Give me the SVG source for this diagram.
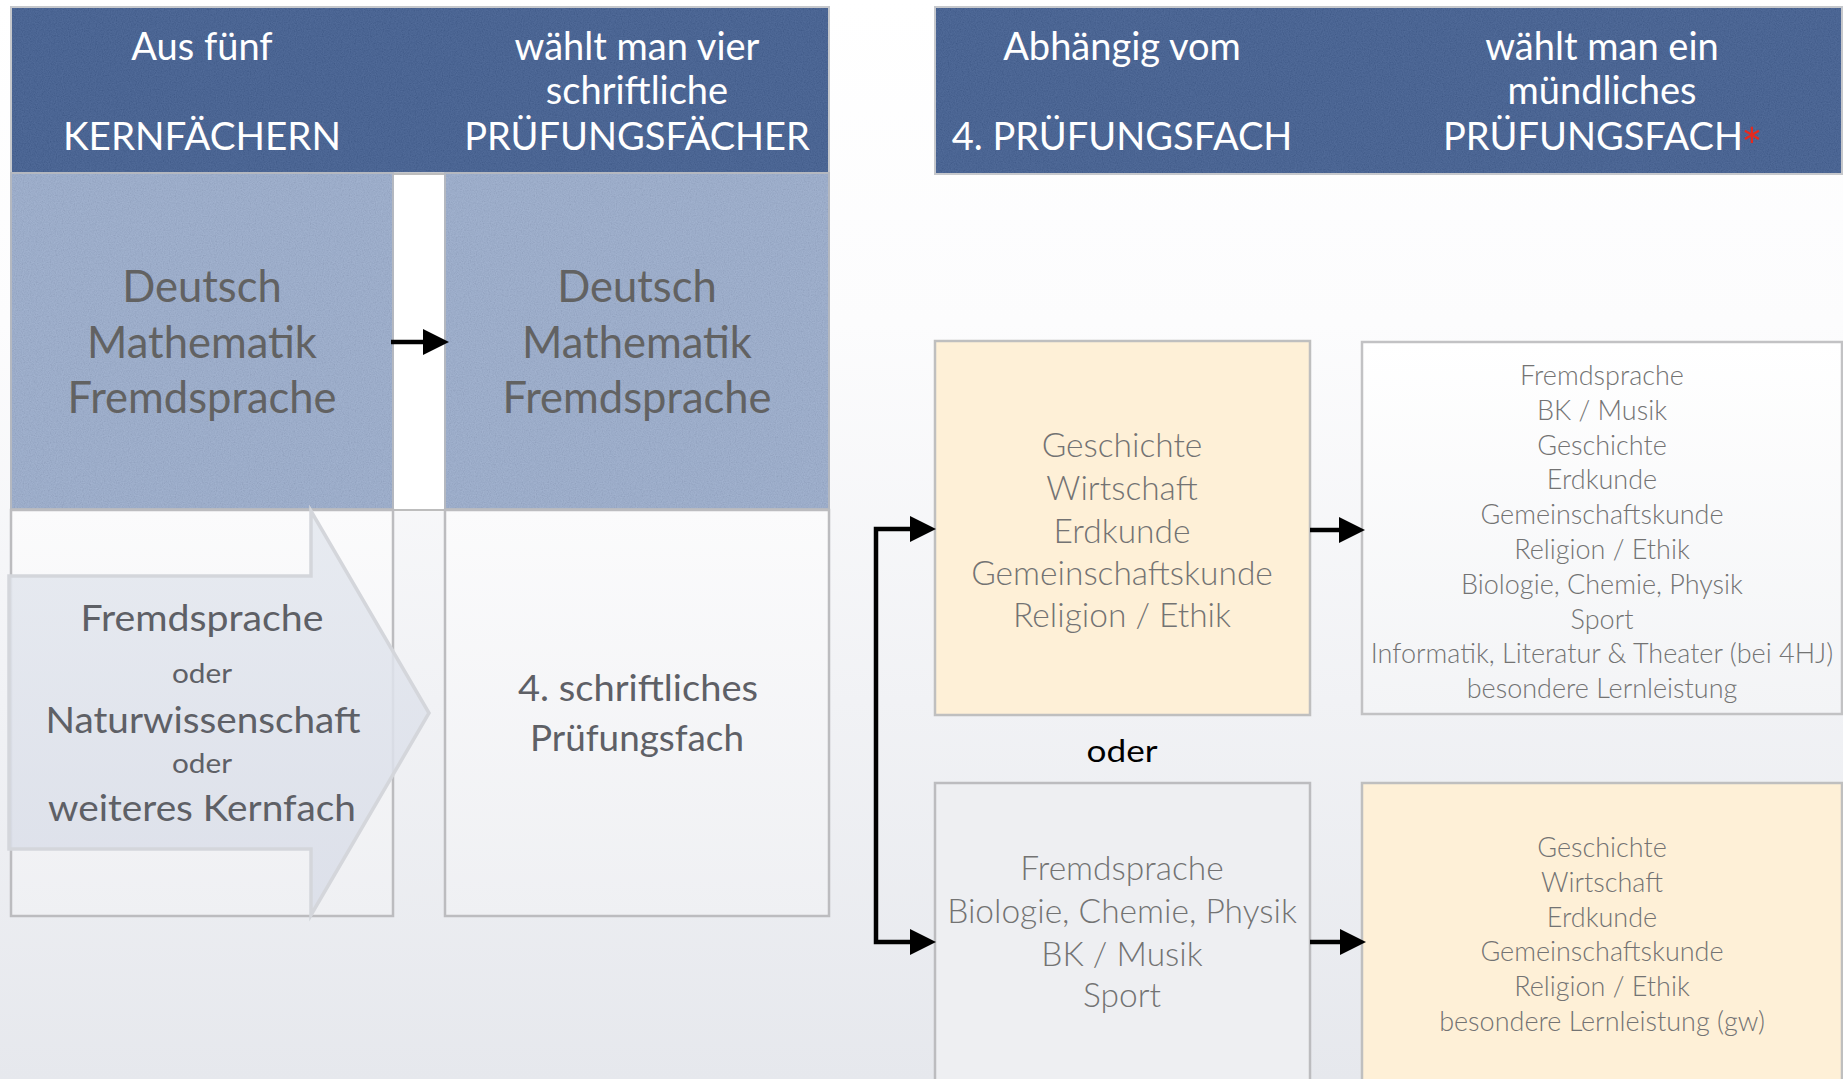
<svg xmlns="http://www.w3.org/2000/svg" width="1843" height="1079" viewBox="0 0 1843 1079">
<defs>
<linearGradient id="bg" x1="0" y1="0" x2="0" y2="1">
<stop offset="0" stop-color="#ffffff"/>
<stop offset="0.3" stop-color="#fcfcfd"/>
<stop offset="1" stop-color="#e6e8ed"/>
</linearGradient>
<linearGradient id="lowbox" x1="0" y1="0" x2="0" y2="1">
<stop offset="0" stop-color="#fbfbfc"/>
<stop offset="1" stop-color="#eff0f3"/>
</linearGradient>
<linearGradient id="bigarrow" x1="0" y1="0" x2="0" y2="1">
<stop offset="0" stop-color="#e4e8ef"/>
<stop offset="1" stop-color="#d9dde8"/>
</linearGradient>
<linearGradient id="whitebox" x1="0" y1="0" x2="0" y2="1">
<stop offset="0" stop-color="#ffffff"/>
<stop offset="1" stop-color="#f3f4f6"/>
</linearGradient>
<filter id="noise" x="0" y="0" width="1" height="1">
<feTurbulence type="fractalNoise" baseFrequency="0.85" numOctaves="2" seed="3" result="n"/>
<feColorMatrix in="n" type="matrix" values="1 0 0 0 0  1 0 0 0 0  1 0 0 0 0  0 0 0 0 0.13"/>
<feComposite in2="SourceGraphic" operator="in"/>
</filter>
<marker id="head" markerUnits="userSpaceOnUse" markerWidth="26" markerHeight="26" refX="0" refY="12" orient="auto-start-reverse" viewBox="0 0 24 24">
<path d="M0,0 L24,12 L0,24 Z" fill="#000"/>
</marker>
<style>
text { font-family: Lato, "Open Sans", "Liberation Sans", sans-serif; text-anchor: middle; }
.hdr { fill: #ffffff; font-size: 38px; }
.big { fill: #626262; font-size: 43.5px; }
.mid { fill: #5e6066; font-size: 37px; }
.sm { fill: #5e6066; font-size: 27px; }
.l32 { fill: #737373; font-size: 33.5px; font-weight: 300; }
.l27 { fill: #737373; font-size: 27px; font-weight: 300; }
.oder { fill: #000; font-size: 30px; }
.star { fill: #e8291c; font-size: 50px; }
.hbox { fill: #3a588d; stroke: #c6c8cc; stroke-width: 2; }
.bbox { fill: #97aacb; stroke: #b4b8c0; stroke-width: 2; }
.tex { fill: #000; filter: url(#noise); }
.lbox { fill: url(#lowbox); stroke: #bcbcbf; stroke-width: 2.5; }
.obox { fill: #fef0d7; stroke: #bfbfbf; stroke-width: 2.5; }
.wbox { fill: url(#whitebox); stroke: #c2c2c4; stroke-width: 2.5; }
.gbox { fill: #eeeff2; stroke: #bcbcbf; stroke-width: 2.5; }
.conn { fill: none; stroke: #000; stroke-width: 4.5; stroke-linejoin: miter; }
</style>
</defs>
<rect x="0" y="0" width="1843" height="1079" fill="url(#bg)"/>

<g id="header-left">
<rect class="hbox" x="11" y="7" width="818" height="166"/>
<rect class="tex" x="12" y="8" width="816" height="164"/>
<text class="hdr" x="202" y="60">Aus fünf</text>
<text class="hdr" x="202" y="150" textLength="278" lengthAdjust="spacingAndGlyphs">KERNFÄCHERN</text>
<text class="hdr" x="637" y="60">wählt man vier</text>
<text class="hdr" x="637" y="104">schriftliche</text>
<text class="hdr" x="637" y="150">PRÜFUNGSFÄCHER</text>
</g>

<g id="header-right">
<rect class="hbox" x="935" y="7" width="907" height="167"/>
<rect class="tex" x="936" y="8" width="905" height="165"/>
<text class="hdr" x="1122" y="60">Abhängig vom</text>
<text class="hdr" x="1122" y="150">4. PRÜFUNGSFACH</text>
<text class="hdr" x="1602" y="60">wählt man ein</text>
<text class="hdr" x="1602" y="104">mündliches</text>
<text class="hdr" x="1593" y="150">PRÜFUNGSFACH</text>
<text class="star" x="1752" y="165">*</text>
</g>

<g id="gap">
<rect x="393" y="174" width="52" height="336" fill="#ffffff" stroke="#bdbdbd" stroke-width="2"/>
</g>

<g id="kern-left">
<rect class="bbox" x="11" y="173" width="382" height="336"/>
<rect class="tex" x="12" y="174" width="380" height="334"/>
<text class="big" x="202" y="302">Deutsch</text>
<text class="big" x="202" y="358">Mathematik</text>
<text class="big" x="202" y="413">Fremdsprache</text>
</g>

<g id="kern-right">
<rect class="bbox" x="445" y="173" width="384" height="336"/>
<rect class="tex" x="446" y="174" width="382" height="334"/>
<text class="big" x="637" y="302">Deutsch</text>
<text class="big" x="637" y="358">Mathematik</text>
<text class="big" x="637" y="413">Fremdsprache</text>
</g>

<g id="wahl-left">
<rect class="lbox" x="11" y="510" width="382" height="406"/>
<path d="M9,576 L311,576 L311,511 L429,713 L311,915 L311,849 L9,849 Z" fill="url(#bigarrow)" fill-opacity="0.85" stroke="#d4d6db" stroke-width="3.5"/>
<text class="mid" x="202" y="631" textLength="243" lengthAdjust="spacingAndGlyphs">Fremdsprache</text>
<text class="sm" x="202" y="683" textLength="60" lengthAdjust="spacingAndGlyphs">oder</text>
<text class="mid" x="203" y="733" textLength="315" lengthAdjust="spacingAndGlyphs">Naturwissenschaft</text>
<text class="sm" x="202" y="773" textLength="60" lengthAdjust="spacingAndGlyphs">oder</text>
<text class="mid" x="202" y="821" textLength="308" lengthAdjust="spacingAndGlyphs">weiteres Kernfach</text>
</g>

<g id="wahl-right">
<rect class="lbox" x="445" y="510" width="384" height="406"/>
<text class="mid" x="638" y="701" textLength="240" lengthAdjust="spacingAndGlyphs">4. schriftliches</text>
<text class="mid" x="637" y="751" textLength="214" lengthAdjust="spacingAndGlyphs">Prüfungsfach</text>
</g>

<g id="gw-box">
<rect class="obox" x="935" y="341" width="375" height="374"/>
<text class="l32" x="1122" y="457">Geschichte</text>
<text class="l32" x="1122" y="500">Wirtschaft</text>
<text class="l32" x="1122" y="543">Erdkunde</text>
<text class="l32" x="1122" y="585">Gemeinschaftskunde</text>
<text class="l32" x="1122" y="627">Religion / Ethik</text>
</g>

<g id="muendlich-top">
<rect class="wbox" x="1362" y="342" width="480" height="372"/>
<text class="l27" x="1602" y="385">Fremdsprache</text>
<text class="l27" x="1602" y="420">BK / Musik</text>
<text class="l27" x="1602" y="455">Geschichte</text>
<text class="l27" x="1602" y="489">Erdkunde</text>
<text class="l27" x="1602" y="524">Gemeinschaftskunde</text>
<text class="l27" x="1602" y="559">Religion / Ethik</text>
<text class="l27" x="1602" y="594">Biologie, Chemie, Physik</text>
<text class="l27" x="1602" y="629">Sport</text>
<text class="l27" x="1602" y="663">Informatik, Literatur &amp; Theater (bei 4HJ)</text>
<text class="l27" x="1602" y="698">besondere Lernleistung</text>
</g>

<g id="oder-label">
<text class="oder" x="1122" y="762" textLength="71" lengthAdjust="spacingAndGlyphs">oder</text>
</g>

<g id="sprach-box">
<rect class="gbox" x="935" y="783" width="375" height="310"/>
<text class="l32" x="1122" y="880">Fremdsprache</text>
<text class="l32" x="1122" y="923">Biologie, Chemie, Physik</text>
<text class="l32" x="1122" y="966">BK / Musik</text>
<text class="l32" x="1122" y="1007">Sport</text>
</g>

<g id="muendlich-bottom">
<rect class="obox" x="1362" y="783" width="480" height="310"/>
<text class="l27" x="1602" y="857">Geschichte</text>
<text class="l27" x="1602" y="892">Wirtschaft</text>
<text class="l27" x="1602" y="927">Erdkunde</text>
<text class="l27" x="1602" y="961">Gemeinschaftskunde</text>
<text class="l27" x="1602" y="996">Religion / Ethik</text>
<text class="l27" x="1602" y="1031">besondere Lernleistung (gw)</text>
</g>

<g id="connectors">
<path class="conn" d="M391,342 L423,342" marker-end="url(#head)"/>
<path class="conn" d="M910,529 L876,529 L876,942 L910,942" marker-start="url(#head)" marker-end="url(#head)"/>
<path class="conn" d="M1310,530 L1339,530" marker-end="url(#head)"/>
<path class="conn" d="M1310,942 L1340,942" marker-end="url(#head)"/>
</g>
</svg>
